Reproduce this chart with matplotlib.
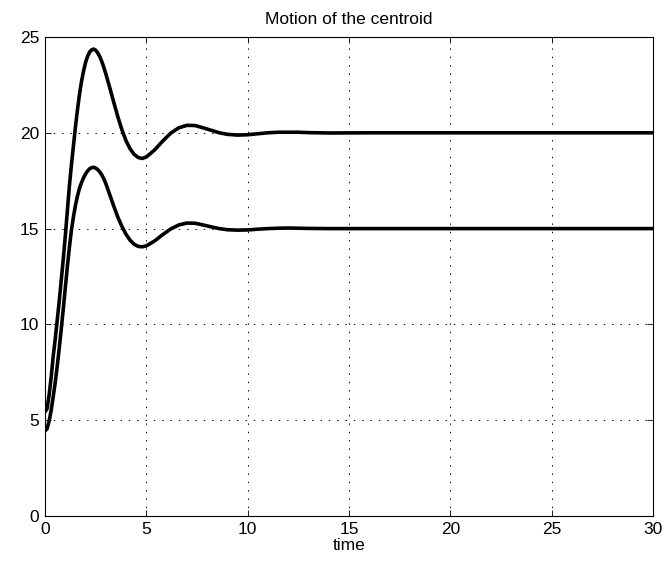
import matplotlib
matplotlib.use("Agg")
import matplotlib.pyplot as plt

# Time samples and centroid coordinates (two components)
time = [0.0, 0.1, 0.2, 0.3, 0.4, 0.5, 0.6, 0.7, 0.8, 0.9, 1.0, 1.1, 1.2, 1.3,
        1.4, 1.5, 1.6, 1.7, 1.8, 1.9, 2.0, 2.1, 2.2, 2.3, 2.4, 2.5, 2.6, 2.7,
        2.8, 2.9, 3.0, 3.2, 3.4, 3.6, 3.8, 4.0, 4.2, 4.4, 4.6, 4.8, 5.0, 5.4,
        5.8, 6.2, 6.6, 7.0, 7.4, 7.8, 8.2, 8.6, 9.0, 9.5, 10.0, 10.5, 11.0,
        11.5, 12.0, 12.5, 13.0, 14.0, 16.0, 18.0, 20.0, 22.0, 24.0, 26.0,
        28.0, 30.0]

centroid_upper = [5.44, 5.6, 6.3, 7.2, 8.3, 9.2, 10.2, 11.2, 12.3, 13.4, 14.6,
                  15.9, 17.2, 18.3, 19.3, 20.3, 21.2, 22.0, 22.68, 23.22,
                  23.67, 23.99, 24.21, 24.33, 24.37, 24.31, 24.17, 23.98, 23.72,
                  23.42, 23.08, 22.33, 21.56, 20.81, 20.14, 19.58, 19.16, 18.87,
                  18.71, 18.66, 18.74, 19.10, 19.56, 19.98, 20.26, 20.39, 20.38,
                  20.26, 20.13, 20.0, 19.92, 19.88, 19.9, 19.95, 20.0, 20.03,
                  20.03, 20.03, 20.01, 19.99, 20.0, 20.0, 20.0, 20.0, 20.0, 20.0,
                  20.0, 20.0]

centroid_lower = [4.44, 4.55, 4.95, 5.5, 6.2, 6.95, 7.8, 8.75, 9.75, 10.8,
                  11.9, 13.0, 14.0, 14.9, 15.6, 16.2, 16.7, 17.1, 17.4, 17.65,
                  17.85, 18.01, 18.12, 18.18, 18.2, 18.16, 18.08, 17.96, 17.8,
                  17.6, 17.35, 16.75, 16.15, 15.58, 15.1, 14.7, 14.39, 14.18,
                  14.07, 14.05, 14.1, 14.35, 14.68, 14.98, 15.19, 15.29, 15.28,
                  15.19, 15.09, 15.0, 14.94, 14.92, 14.93, 14.97, 15.0, 15.02,
                  15.03, 15.02, 15.01, 15.0, 15.0, 15.0, 15.0, 15.0, 15.0, 15.0,
                  15.0, 15.0]

x_ticks = [0, 5, 10, 15, 20, 25, 30]
y_ticks = [0, 5, 10, 15, 20, 25]

plt.rcParams["font.family"] = ["Liberation Sans", "DejaVu Sans"]
plt.rcParams["lines.scale_dashes"] = False

fig = plt.figure(figsize=(6.71, 5.64), dpi=100)
ax = fig.add_axes([0.0671, 0.0851, 0.9061, 0.8493])

ax.plot(time, centroid_upper, color="black", linewidth=2.6,
        solid_joinstyle="round", solid_capstyle="round")
ax.plot(time, centroid_lower, color="black", linewidth=2.6,
        solid_joinstyle="round", solid_capstyle="round")

ax.set_xlim(0, 30)
ax.set_ylim(0, 25)
ax.set_xticks(x_ticks)
ax.set_yticks(y_ticks)
ax.set_xticklabels([str(v) for v in x_ticks])
ax.set_yticklabels([str(v) for v in y_ticks])

ax.grid(True, color="black", linestyle=(0, (1, 5)), linewidth=0.7)
ax.set_axisbelow(True)

ax.tick_params(direction="in", top=True, right=True, length=4, width=0.6,
               labelsize=12.5, colors="black")
ax.tick_params(axis="x", pad=4)
ax.tick_params(axis="y", pad=4)

for s in ax.spines.values():
    s.set_linewidth(0.8)
    s.set_color("black")

ax.set_title("Motion of the centroid", fontsize=12.5, pad=9)
ax.set_xlabel("time", fontsize=12.5, labelpad=1)

fig.savefig("out.png", dpi=100, facecolor="white")
